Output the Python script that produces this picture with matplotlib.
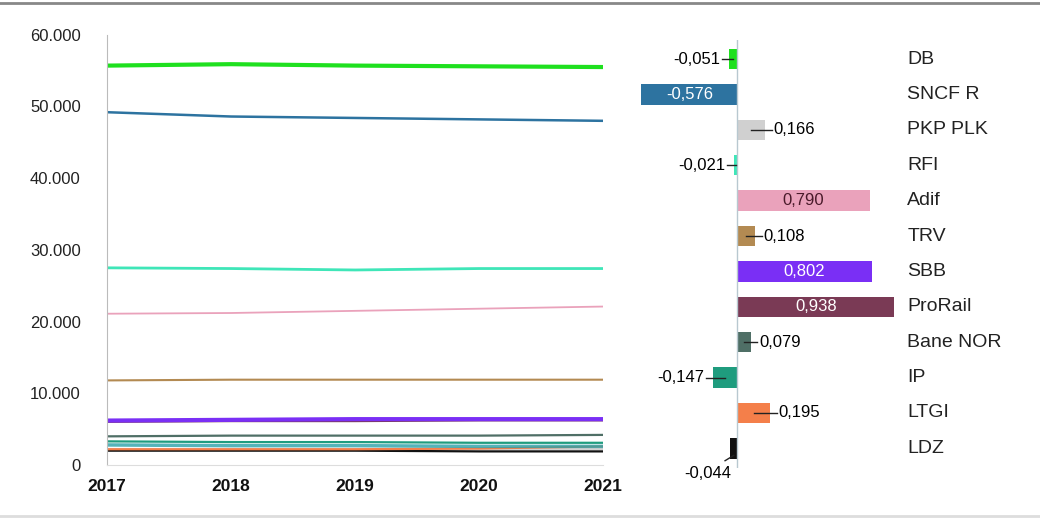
import numpy as np
import matplotlib
matplotlib.use("Agg")
from matplotlib import pyplot as plt
from matplotlib.lines import Line2D
from matplotlib.ticker import FuncFormatter

plt.rcParams['font.family'] = ['Liberation Sans', 'DejaVu Sans']

years = [2017, 2018, 2019, 2020, 2021]

names = ['DB', 'SNCF R', 'PKP PLK', 'RFI', 'Adif', 'TRV', 'SBB', 'ProRail',
         'Bane NOR', 'IP', 'LTGI', 'LDZ']
colors = ['#1fe01f', '#2d73a0', '#d0d0d0', '#3fe6b8', '#eaa2bb', '#b38a52',
          '#7a2ff5', '#7a3a55', '#4f6f66', '#1f9c7e', '#f47f4a', '#111111']

# yearly values per company (thousands)
db = [55.7, 55.9, 55.7, 55.6, 55.5]
sncf = [49.2, 48.6, 48.4, 48.2, 48.0]
pkp = [2.3, 2.3, 2.3, 2.3, 2.3]
rfi = [27.5, 27.4, 27.2, 27.4, 27.4]
adif = [21.1, 21.2, 21.5, 21.8, 22.1]
trv = [11.8, 11.9, 11.9, 11.9, 11.9]
sbb = [6.2, 6.3, 6.4, 6.4, 6.4]
prorail = [6.0, 6.1, 6.1, 6.2, 6.2]
banenor = [4.0, 4.1, 4.1, 4.1, 4.2]
ip = [3.3, 3.2, 3.2, 3.1, 3.1]
ltgi = [2.2, 2.2, 2.2, 2.3, 2.6]
ldz = [2.0, 2.0, 2.0, 1.9, 1.9]
series = [db, sncf, pkp, rfi, adif, trv, sbb, prorail, banenor, ip, ltgi, ldz]

# change per company
change = [-0.051, -0.576, 0.166, -0.021, 0.790, 0.108, 0.802, 0.938,
          0.079, -0.147, 0.195, -0.044]

fig = plt.figure(figsize=(10.4, 5.19), dpi=100)

# ---- left: line chart
ax = fig.add_axes([0.103, 0.104, 0.477, 0.829])
widths = [3, 1.8, 1.5, 2, 1.3, 1.5, 3, 1.3, 1.6, 1.6, 1.6, 1.6]
order = [2, 11, 10, 9, 8, 7, 6, 5, 4, 3, 1, 0]
for i in order:
    ax.plot(years, np.array(series[i]) * 1000, color=colors[i], lw=widths[i])
ax.plot(years, np.array(ip) * 1000 - 500, color='#2aa0a8', lw=2.5, alpha=0.8)
ax.set_xlim(2017, 2021)
ax.set_ylim(0, 60000)
ax.set_yticks(range(0, 60001, 10000))
ax.set_xticks(years)
ax.yaxis.set_major_formatter(FuncFormatter(lambda v, p: f'{int(v):,}'.replace(',', '.')))
for s in ['top', 'right']:
    ax.spines[s].set_visible(False)
ax.spines['left'].set_color('#bbbbbb')
ax.spines['bottom'].set_color('#dddddd')
ax.tick_params(axis='y', length=0, labelsize=12, pad=19, colors='#222222')
ax.tick_params(axis='x', length=0, labelsize=12.5, pad=10, colors='#111111')
for t in ax.get_xticklabels():
    t.set_fontweight('bold')

# ---- right: bar chart
bx = fig.add_axes([0.606, 0.098, 0.26, 0.825])
ypos = np.arange(len(names))
bx.barh(ypos, change, height=0.58, color=colors)
bx.set_xlim(-0.641, 0.976)
bx.set_ylim(11.56, -0.54)
bx.axvline(0, color='#b8c8d0', lw=1)
bx.axis('off')

fs = 12
inside = {1: 'white', 4: '#4a1a2a', 6: 'white', 7: 'white'}
for i, v in enumerate(change):
    lab = f'{v:.3f}'.replace('.', ',')
    if i in inside:
        bx.text(v / 2, i, lab, ha='center', va='center', fontsize=fs,
                color=inside[i])
    elif i == 11:
        bx.plot([v - 0.03, v * 0.5], [i + 0.35, i + 0.2], color='#222222', lw=1)
        bx.text(v + 0.01, i + 0.72, lab, ha='right', va='center', fontsize=fs)
    elif v >= 0:
        bx.plot([v * 0.5, v + 0.04], [i, i], color='#222222', lw=1)
        bx.text(v + 0.05, i, lab, ha='left', va='center', fontsize=fs)
    else:
        bx.plot([v - 0.04, v * 0.5], [i, i], color='#222222', lw=1)
        bx.text(v - 0.05, i, lab, ha='right', va='center', fontsize=fs)
    bx.text(1.025, i, names[i], ha='left', va='center', fontsize=14,
            color='#222222', transform=bx.get_yaxis_transform(), clip_on=False)

# frame lines
fig.add_artist(Line2D([0, 1], [0.994, 0.994], color='#888888', lw=2))
fig.add_artist(Line2D([0, 1], [0.006, 0.006], color='#dddddd', lw=2))

fig.savefig('out.png', dpi=100)
